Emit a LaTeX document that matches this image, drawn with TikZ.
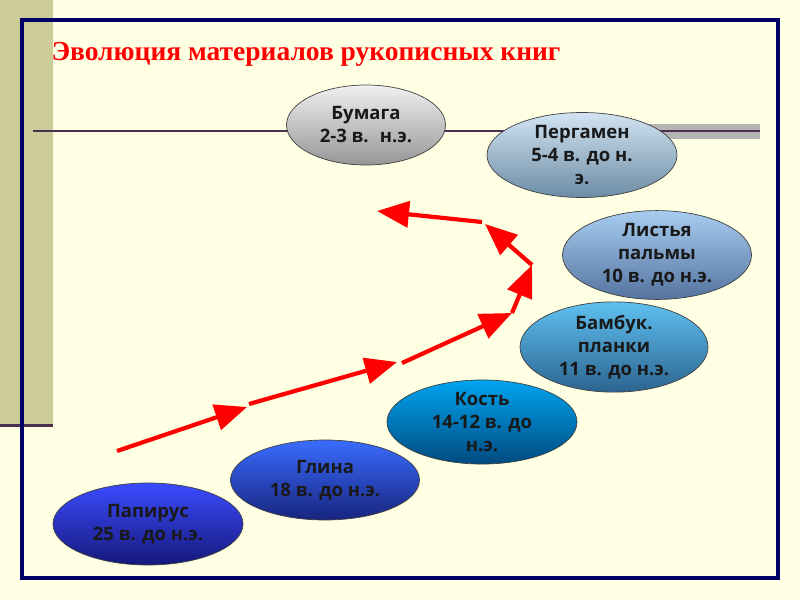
\documentclass[tikz,border=0pt]{standalone}
\usepackage{fontspec}
\setmainfont{Liberation Serif}
\newfontfamily\stagefont{Open Sans}
\usetikzlibrary{arrows.meta,shapes.geometric}
\definecolor{slidebg}{HTML}{FFFFE3}
\definecolor{khaki}{HTML}{CCCC99}
\definecolor{navyframe}{HTML}{000066}
\definecolor{plumline}{HTML}{4A2F4F}
\definecolor{rulegray}{HTML}{B4B4B4}
\definecolor{titlered}{HTML}{FF0000}
\definecolor{papyrtop}{HTML}{3A4CFF}
\definecolor{papyrbot}{HTML}{16187A}
\definecolor{claytop}{HTML}{3A6CFF}
\definecolor{claybot}{HTML}{17247E}
\definecolor{bonetop}{HTML}{00A4F0}
\definecolor{bonebot}{HTML}{004A80}
\definecolor{bambtop}{HTML}{5EC0F0}
\definecolor{bambbot}{HTML}{2C6490}
\definecolor{palmtop}{HTML}{A8CCF0}
\definecolor{palmbot}{HTML}{5474A0}
\definecolor{pergtop}{HTML}{D2E4F2}
\definecolor{pergbot}{HTML}{6C8CA6}
\definecolor{papertop}{HTML}{F0F0F0}
\definecolor{paperbot}{HTML}{969696}
\tikzset{
  stage/.style={ellipse,draw=black!75,line width=0.7pt,inner sep=0pt,
                align=center,text=black!90,
                font=\stagefont\bfseries\fontsize{18.5}{23}\selectfont},
  redarr/.style={-{Triangle[length=32pt,width=26pt]},line width=4.2pt,
                 draw=titlered,line cap=butt}
}
\begin{document}
\begin{tikzpicture}[x=1pt,y=-1pt]
    \fill[slidebg] (0,0) rectangle (800,600);
    \path[use as bounding box] (0,0) rectangle (800,600);
    \fill[khaki] (0,0) rectangle (53,425);
    \draw[plumline,line width=3pt] (0,425) -- (53,425);
    \fill[rulegray] (600,124) rectangle (760,139);
    \draw[plumline,line width=2pt] (33,131) -- (760,131);
    \draw[navyframe,line width=4pt] (22,20) rectangle (778,578);
    \node[anchor=base west,text=titlered,font=\bfseries\fontsize{27.5}{32}\selectfont]
      (title) at (48,60) {Эволюция материалов рукописных книг};
    % stages, oldest at the bottom
    \node[stage,minimum width=190pt,minimum height=82pt,
          top color=papyrtop,bottom color=papyrbot] (papyrus) at (148,524)
      {Папирус\\25 в. до н.э.};
    \node[stage,minimum width=189pt,minimum height=80pt,
          top color=claytop,bottom color=claybot] (clay) at (325,480)
      {Глина\\18 в. до н.э.};
    \node[stage,minimum width=190pt,minimum height=82pt,
          top color=bonetop,bottom color=bonebot] (bone) at (482,422)
      {Кость\\14-12 в. до\\н.э.};
    \node[stage,minimum width=188pt,minimum height=81pt,
          top color=bambtop,bottom color=bambbot] (bamboo) at (614,347)
      {Бамбук.\\планки\\11 в. до н.э.};
    \node[stage,minimum width=189pt,minimum height=80pt,
          top color=palmtop,bottom color=palmbot] (palm) at (657,255)
      {Листья\\пальмы\\10 в. до н.э.};
    \node[stage,minimum width=190pt,minimum height=85pt,
          top color=pergtop,bottom color=pergbot] (parchment) at (582,155)
      {Пергамен\\5-4 в. до н.\\э.};
    \node[stage,minimum width=159pt,minimum height=80pt,
          top color=papertop,bottom color=paperbot] (paper) at (366,125)
      {Бумага\\2-3 в.~ н.э.};
    % the red path upwards
    \coordinate (p0) at (117,451);
    \coordinate (p1) at (247,407);
    \coordinate (p2) at (397,362);
    \coordinate (p3) at (512,313);
    \coordinate (p4) at (532,265);
    \coordinate (p5) at (485,224);
    \coordinate (p6) at (377,211);
    \draw[redarr] (p0) -- (p1);
    \draw[redarr] ([shift={(2,-3)}]p1) -- (p2);
    \draw[redarr] ([shift={(5,1)}]p2) -- (p3);
    \draw[redarr] (p3) -- (p4);
    \draw[redarr] (p4) -- (p5);
    \draw[redarr] ([shift={(-3,-2)}]p5) -- (p6);
  \end{tikzpicture}
\end{document}
